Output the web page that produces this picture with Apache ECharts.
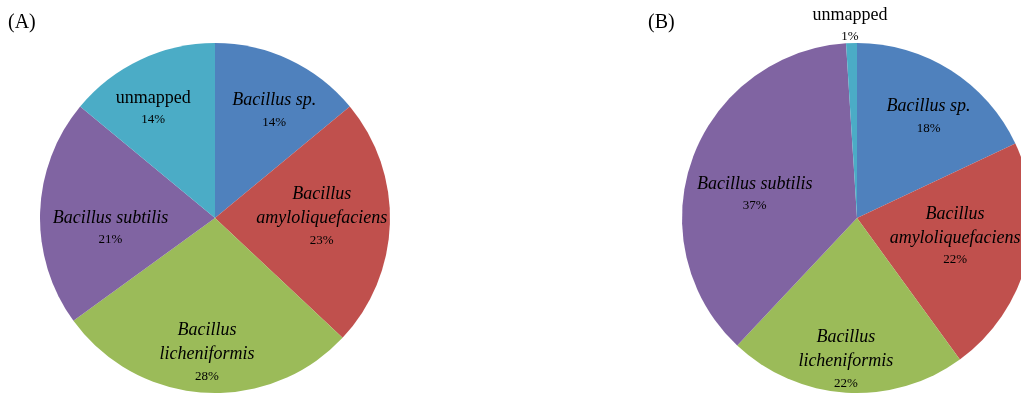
<!DOCTYPE html>
<html>
<head>
<meta charset="utf-8">
<script src="https://cdn.jsdelivr.net/npm/echarts@6/dist/echarts.min.js"></script>
<style>
  html, body { margin: 0; padding: 0; background: #fff; }
  #chart { width: 1021px; height: 394px; }
</style>
</head>
<body>
<div id="chart"></div>
<script>
// Taxon categories (same order in both pies)
const categories = ['Bacillus sp.', 'Bacillus amyloliquefaciens', 'Bacillus licheniformis', 'Bacillus subtilis', 'unmapped'];
// Label text per category (line breaks as drawn)
const labelNames = ['Bacillus sp.', 'Bacillus\namyloliquefaciens', 'Bacillus\nlicheniformis', 'Bacillus subtilis', 'unmapped'];
// Percent shares
const valuesA = [14, 23, 28, 21, 14];
const valuesB = [18, 22, 22, 37, 1];
const panelTitles = ['(A)', '(B)'];

// Styling / layout
const colors = ['#4F81BD', '#C0504D', '#9BBB59', '#8064A2', '#4BACC6'];
const SERIF = '"Liberation Serif", "Times New Roman", serif';
const pies = [
  { cx: 215, cy: 218, r: 175, values: valuesA,
    // label anchor: fraction of radius and angular nudge (deg) from slice middle
    frac: [0.70, 0.61, 0.77, 0.60, 0.72], nudge: [3.7, -2.8, -0.2, -7.3, -4.2] },
  { cx: 857, cy: 218, r: 175, values: valuesB,
    frac: [0.71, 0.57, 0.81, 0.60, 1.10], nudge: [2.8, -4.0, 0.9, -6.6, -0.3] }
];

function midAngles(values) {
  const total = values.reduce((a, b) => a + b, 0);
  let acc = 0;
  return values.map(v => { const m = (acc + v / 2) / total * 360; acc += v; return m; });
}

const chart = echarts.init(document.getElementById('chart'), null, { renderer: 'canvas' });

const series = pies.map((p, si) => {
  const mids = midAngles(p.values);
  return {
    type: 'pie',
    center: [p.cx, p.cy],
    radius: [0, p.r],
    startAngle: 90,
    clockwise: true,
    silent: true,
    animation: false,
    avoidLabelOverlap: false,
    data: categories.map((c, i) => ({ name: c, value: p.values[i], itemStyle: { color: colors[i] } })),
    itemStyle: { borderWidth: 0 },
    label: {
      show: true,
      position: 'inside',
      color: '#000',
      fontFamily: SERIF,
      formatter: (params) => {
        const i = params.dataIndex;
        const style = i === 4 ? 'u' : 'n';
        const lines = labelNames[i].split('\n').map(t => '{' + style + '|' + t + '}');
        return lines.join('\n') + '\n{p|' + params.value + '%}';
      },
      rich: {
        n: { fontFamily: SERIF, fontStyle: 'italic', fontSize: 18, lineHeight: 24, color: '#000' },
        u: { fontFamily: SERIF, fontSize: 18, lineHeight: 22, color: '#000' },
        p: { fontFamily: SERIF, fontSize: 13, lineHeight: 20, color: '#000' }
      }
    },
    labelLine: { show: false },
    labelLayout: (params) => {
      const i = params.dataIndex;
      const ang = (mids[i] + p.nudge[i]) * Math.PI / 180;
      const rr = p.frac[i] * p.r;
      return {
        x: p.cx + Math.sin(ang) * rr,
        y: p.cy - Math.cos(ang) * rr,
        align: 'center',
        verticalAlign: 'middle'
      };
    }
  };
});

chart.setOption({
  backgroundColor: '#fff',
  animation: false,
  title: [
    { text: panelTitles[0], left: 3, top: 8, textStyle: { fontFamily: SERIF, fontSize: 20, fontWeight: 'normal', color: '#000' } },
    { text: panelTitles[1], left: 643, top: 8, textStyle: { fontFamily: SERIF, fontSize: 20, fontWeight: 'normal', color: '#000' } }
  ],
  series: series
});
</script>
</body>
</html>
